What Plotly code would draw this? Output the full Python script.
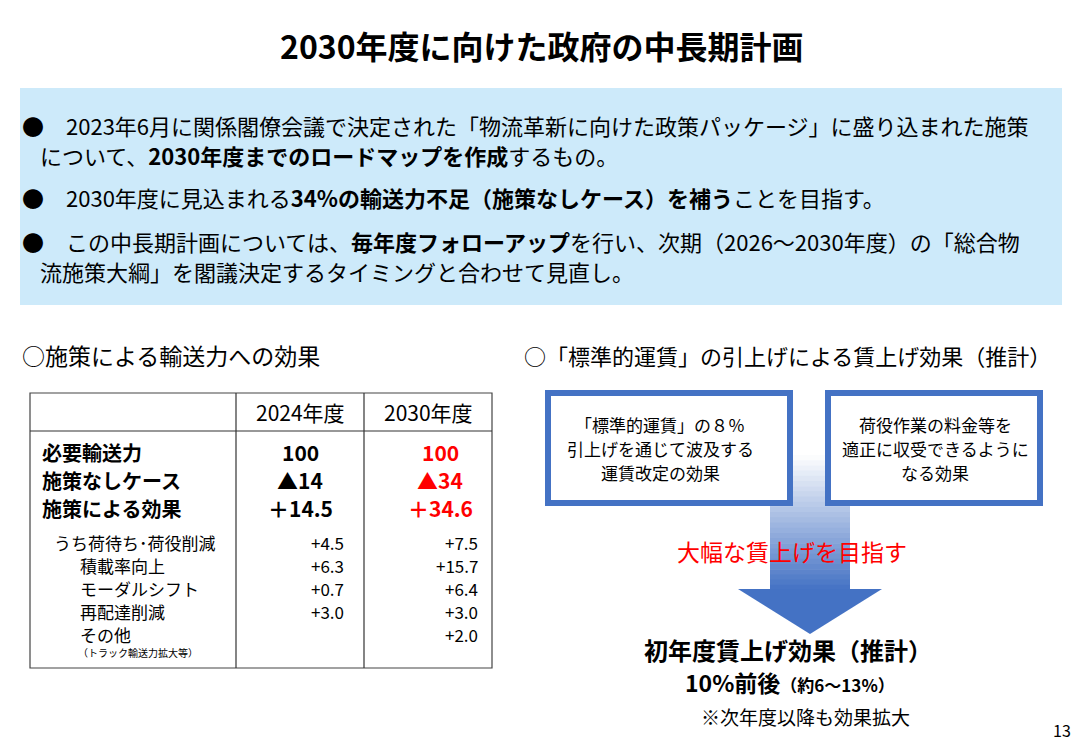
import plotly.graph_objects as go

title = "2030年度に向けた政府の中長期計画"
bullets = [
    ("●　2023年6月に関係閣僚会議で決定された「物流革新に向けた政策パッケージ」に盛り込まれた施策", 20, 125),
    ("について、<b>2030年度までのロードマップを作成</b>するもの。", 38, 155),
    ("●　2030年度に見込まれる<b>34%の輸送力不足（施策なしケース）を補う</b>ことを目指す。", 20, 197),
    ("●　この中長期計画については、<b>毎年度フォローアップ</b>を行い、次期（2026～2030年度）の「総合物", 20, 241),
    ("流施策大綱」を閣議決定するタイミングと合わせて見直し。", 38, 271),
]
years = ["2024年度", "2030年度"]
main_labels = ["必要輸送力", "施策なしケース", "施策による効果"]
main_2024 = ["100", "▲14", "＋14.5"]
main_2030 = ["100", "▲34", "＋34.6"]
sub_labels = ["うち荷待ち･荷役削減", "積載率向上", "モーダルシフト", "再配達削減", "その他"]
sub_2024 = ["+4.5", "+6.3", "+0.7", "+3.0", ""]
sub_2030 = ["+7.5", "+15.7", "+6.4", "+3.0", "+2.0"]
box1 = ["「標準的運賃」の８％", "引上げを通じて波及する", "運賃改定の効果"]
box2 = ["荷役作業の料金等を", "適正に収受できるように", "なる効果"]

FONT = "Noto Sans CJK JP"
BLUE = "#4472c4"
fig = go.Figure()
shapes, ann = [], []

def txt(t, x, y, size=20, color="#000", anchor="left", bold=False):
    ann.append(dict(x=x, y=y, xref="x", yref="y", text=(f"<b>{t}</b>" if bold else t),
                    showarrow=False, xanchor=anchor, yanchor="middle",
                    font=dict(family=FONT, size=size, color=color)))

def rect(x0, y0, x1, y1, fill=None, line=None, w=0):
    shapes.append(dict(type="rect", xref="x", yref="y", x0=x0, y0=y0, x1=x1, y1=y1,
                       fillcolor=fill or "rgba(0,0,0,0)", line=dict(color=line or "rgba(0,0,0,0)", width=w), layer="below"))

def line(x0, y0, x1, y1, color="#333", w=1.2):
    shapes.append(dict(type="line", xref="x", yref="y", x0=x0, y0=y0, x1=x1, y1=y1, line=dict(color=color, width=w)))

txt(title, 542, 45, 32, anchor="center", bold=True)
rect(20, 88, 1062, 305, fill="#cdeafa")
for t, x, y in bullets:
    txt(t, x, y, 22)

txt("○施策による輸送力への効果", 20, 355, 23)
txt("○「標準的運賃」の引上げによる賃上げ効果（推計）", 522, 355, 22)

# table
rect(30, 393, 492, 668, line="#444", w=1.2)
line(236, 393, 236, 668); line(364, 393, 364, 668); line(30, 431, 492, 431)
txt(years[0], 300, 412, 21, anchor="center"); txt(years[1], 428, 412, 21, anchor="center")
for i, (l, a, b) in enumerate(zip(main_labels, main_2024, main_2030)):
    y = 452 + 28 * i
    txt(l, 40, y, 20, bold=True)
    txt(a, 300, y, 21, anchor="center", bold=True)
    txt(b, 440, y, 21, color="#ff0000", anchor="center", bold=True)
for i, (l, a, b) in enumerate(zip(sub_labels, sub_2024, sub_2030)):
    y = 542 + 23 * i
    txt(l, 52 if i == 0 else 78, y, 17)
    txt(a, 346, y, 17, anchor="right")
    txt(b, 480, y, 17, anchor="right")
txt("（トラック輸送力拡大等）", 76, 652, 10)

# arrow gradient shaft
n = 26
y0, y1 = 455, 590
for k in range(n):
    f = (k + 0.5) / n
    r = int(255 + (0x44 - 255) * f); g = int(255 + (0x72 - 255) * f); bb = int(255 + (0xc4 - 255) * f)
    rect(770, y0 + (y1 - y0) * k / n, 850, y0 + (y1 - y0) * (k + 1) / n + 0.6, fill=f"rgb({r},{g},{bb})")
shapes.append(dict(type="path", xref="x", yref="y", path="M 738 589 L 882 589 L 810 634 Z",
                   fillcolor=BLUE, line=dict(width=0), layer="below"))

# boxes
rect(548, 393, 790, 503, fill="#ffffff", line=BLUE, w=6)
rect(828, 393, 1040, 503, fill="#ffffff", line=BLUE, w=6)
for i, t in enumerate(box1):
    txt(t, 660, 424 + 24 * i, 17, anchor="center")
for i, t in enumerate(box2):
    txt(t, 935, 424 + 24 * i, 17, anchor="center")

txt("大幅な賃上げを目指す", 792, 551, 23, color="#ff0000", anchor="center")
txt("初年度賃上げ効果（推計）", 788, 649, 24, anchor="center", bold=True)
txt("<b>10%前後</b><b><span style='font-size:17px'>（約6～13%）</span></b>", 790, 682, 23, anchor="center")
txt("※次年度以降も効果拡大", 805, 716, 19, anchor="center")
txt("13", 1062, 730, 16, anchor="center")

fig.update_layout(width=1084, height=750, margin=dict(l=0, r=0, t=0, b=0),
                  paper_bgcolor="white", plot_bgcolor="white", shapes=shapes, annotations=ann,
                  xaxis=dict(range=[8, 1092], visible=False, fixedrange=True),
                  yaxis=dict(range=[758, 8], visible=False, fixedrange=True), showlegend=False)
fig.write_html("out.html", config={"displayModeBar": False})
